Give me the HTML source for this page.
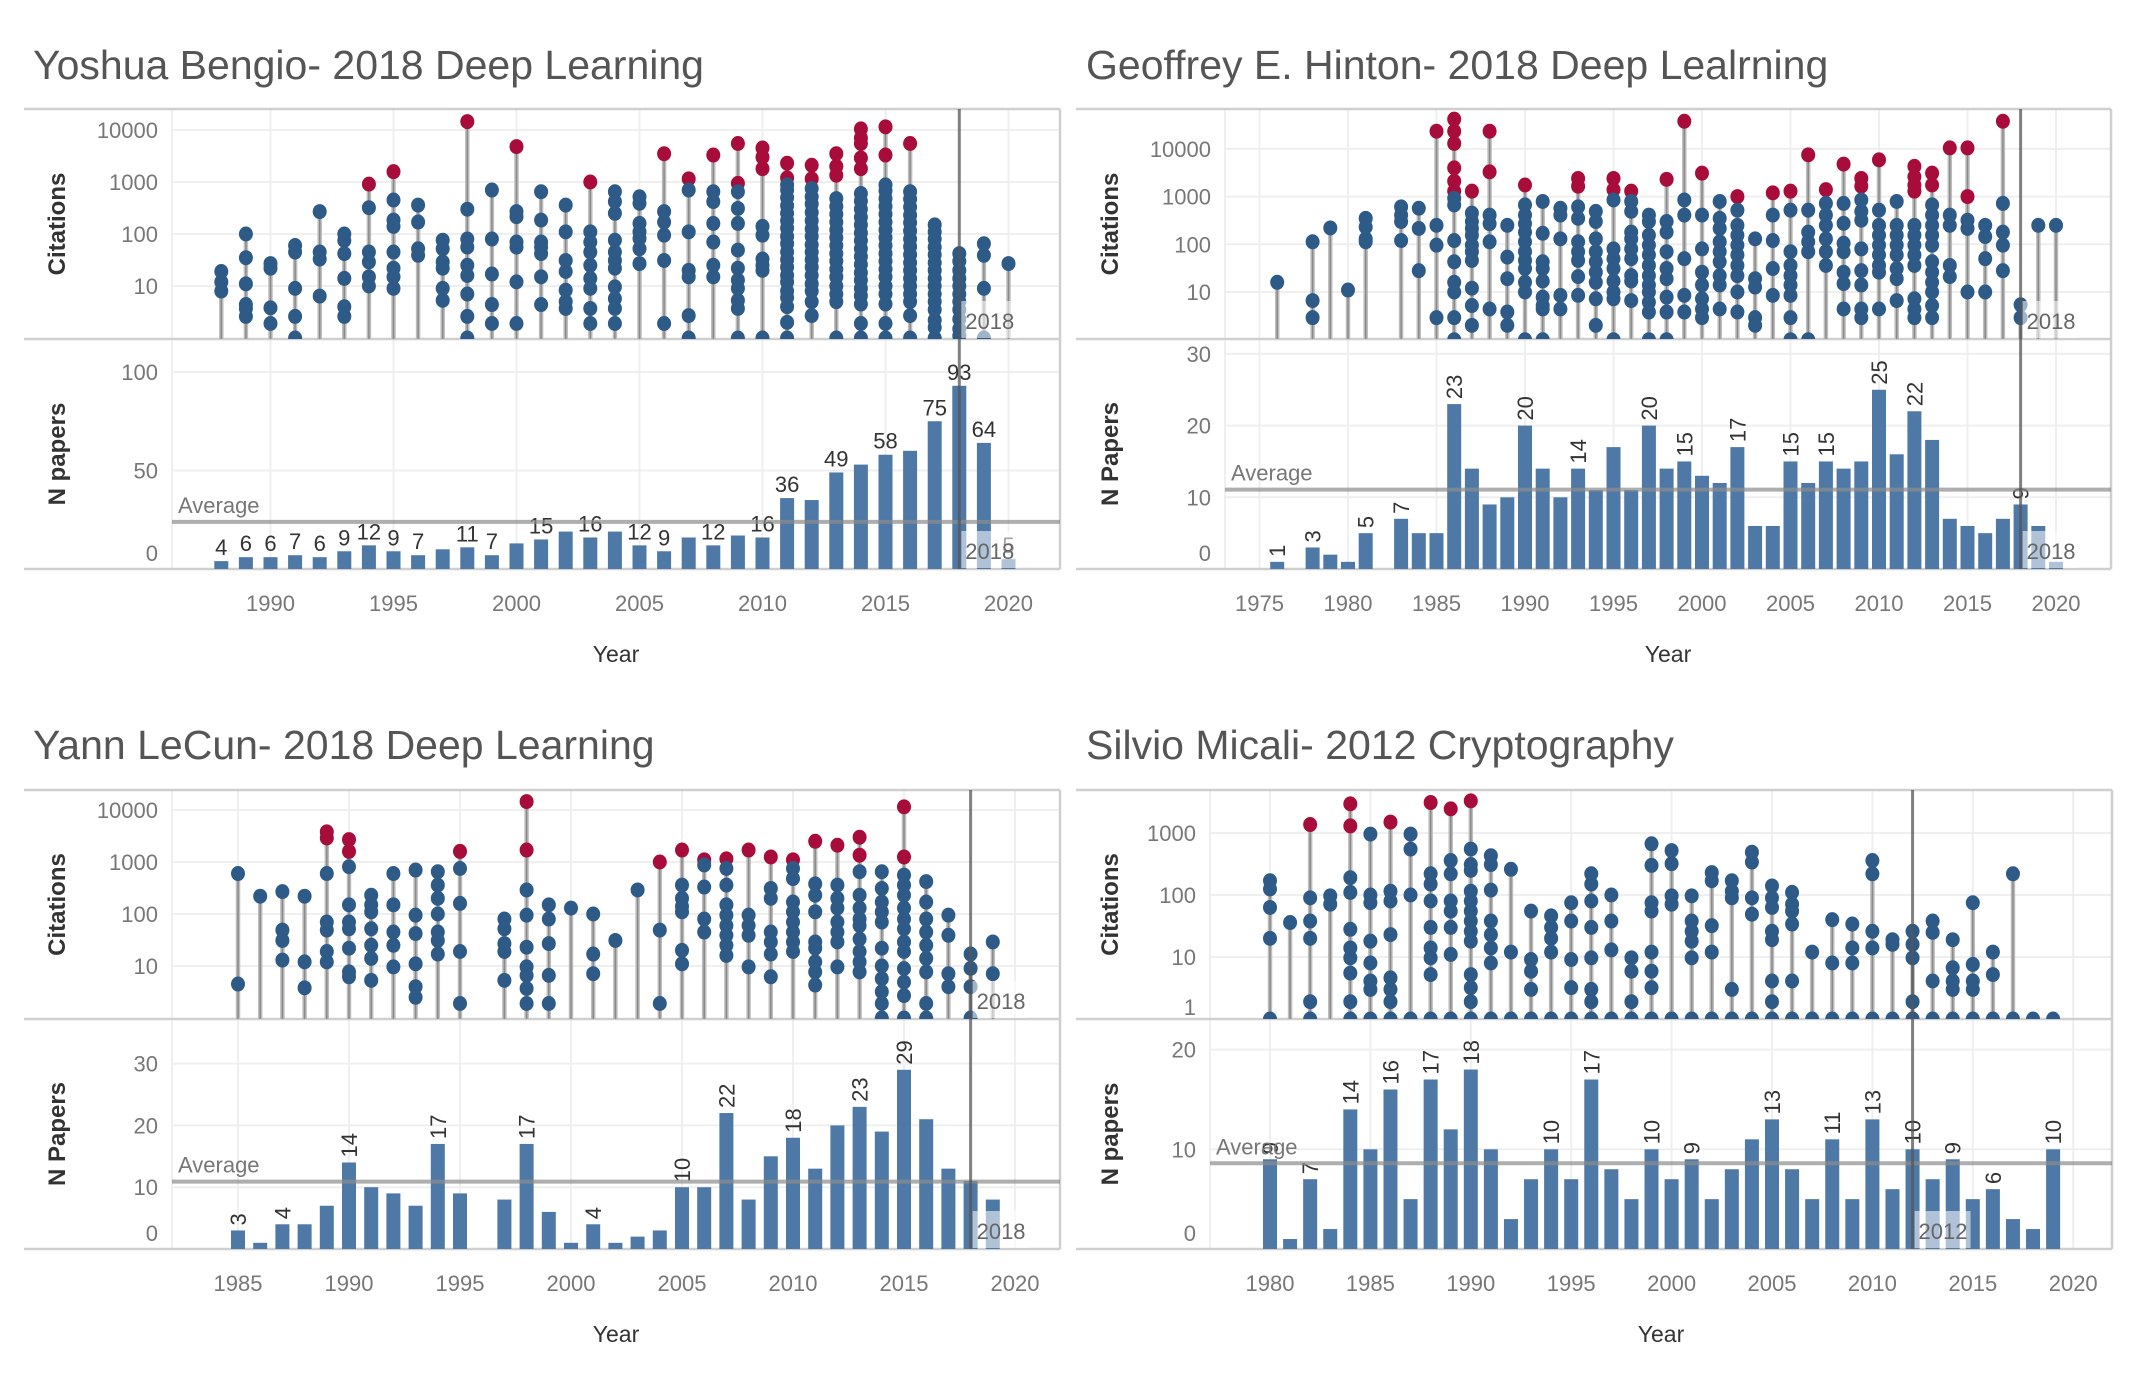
<!DOCTYPE html>
<html><head><meta charset="utf-8">
<style>
html,body{margin:0;padding:0;background:#fff;}
svg{display:block;font-family:"Liberation Sans",sans-serif;}
</style></head>
<body>
<svg id="chart" width="2136" height="1388" viewBox="0 0 2136 1388" xmlns="http://www.w3.org/2000/svg"></svg>
<script>
// ---------- DATA ----------
const bengioYears = [1988,1989,1990,1991,1992,1993,1994,1995,1996,1997,1998,1999,2000,2001,2002,2003,2004,2005,2006,2007,2008,2009,2010,2011,2012,2013,2014,2015,2016,2017,2018,2019,2020];
const bengioCounts = [4,6,6,7,6,9,12,9,7,10,11,7,13,15,19,16,19,12,9,16,12,17,16,36,35,49,53,58,60,75,93,64,5];
const bengioLabelYears = [1988,1989,1990,1991,1992,1993,1994,1995,1996,1998,1999,2001,2003,2005,2006,2008,2010,2011,2013,2015,2017,2018,2019,2020];
const bengioCitations = [
[19,12,8],[100,35,11,4.4,3.7,2.6],[27,22,3.8,1.9],[60,45,9,2.6,0],[270,45,33,6.4],[100,75,42,14,4,2.6],
[910,320,45,29,15,10],[1580,450,185,140,45,22,15,9],[360,170,52,39],[76,52,29,22,9,5.3],
[14500,300,80,56,25,16,7,2.6,0],[700,80,17,4.4,1.9],[4800,270,215,70,56,12,1.9],[650,185,70,56,42,15,4.4],
[360,110,31,19,8.3,5,3.7],[1000,110,70,45,25,14,9,3.7,1.9],[650,420,250,76,45,31,22,9.6,5.7,3.7,1.9],
[520,390,160,110,82,52,27],[3500,270,170,95,31,1.9],[1150,700,110,20,15,2.7,0],[3300,650,420,160,70,25,15],
[5500,940,650,310,160,49,22,13,9,5.3,3.7,0],[4500,3000,1800,140,95,33,25,20,0],
[2300,1200,880,700,500,350,250,180,130,90,65,45,32,23,16,12,8,6,4,2,0],
[2100,1150,750,520,380,260,180,125,90,62,45,32,23,16,11,8,5,2.7],
[3500,2000,1350,480,340,240,170,120,85,60,42,30,21,15,10,7,5,0],
[10500,7000,5500,2900,1800,600,430,300,210,150,105,75,52,37,26,18,13,9,6.5,4.5,1.9,0],
[11500,3300,880,680,480,340,240,170,120,85,60,42,30,21,15,10,7,4.5,1.9,0],
[5500,650,470,330,230,165,115,80,57,40,28,20,14,10,7,5,2.7,0],
[150,110,80,56,40,28,20,14,10,7,5,3.5,2.2,1.6,0],
[42,30,20,14,10,7,5,3.5,2.3,1.5,1.1],[65,39,9,0],[27]];

const hintonYears = [1976,1977,1978,1979,1980,1981,1982,1983,1984,1985,1986,1987,1988,1989,1990,1991,1992,1993,1994,1995,1996,1997,1998,1999,2000,2001,2002,2003,2004,2005,2006,2007,2008,2009,2010,2011,2012,2013,2014,2015,2016,2017,2018,2019,2020];
const hintonCounts = [1,0,3,2,1,5,0,7,5,5,23,14,9,10,20,14,10,14,11,17,11,20,14,15,13,12,17,6,6,15,12,15,14,15,25,16,22,18,7,6,5,7,9,6,1];
const hintonLabelYears = [1976,1978,1981,1983,1986,1990,1993,1997,1999,2002,2005,2007,2010,2012,2018];
const hintonCitations = [
[16],[],[113,6.6,2.9],[220],[11],[350,230,130,113],[],[610,410,300,120],[570,215,28],[23500,250,96,2.9],
[42000,23500,13000,4000,2100,1300,920,670,120,43,16,10,2.9,1],[1300,450,300,215,155,96,70,46,12,5.2,2],
[23500,3300,410,270,113,4.4],[250,54,19,3.8,2],[1750,670,410,270,180,113,70,46,31,16,10,1],
[790,170,43,31,17,7.8,5.2,4.4,1],[570,410,130,8.5,4.4],[2400,1650,610,350,113,70,46,21,8.5],
[490,300,130,70,43,26,16,7.2,2],[2400,1400,850,80,50,31,17,10,7.2,1],[1300,790,490,180,130,80,50,22,17,6.6],
[410,300,155,96,60,36,22,14,10,6.1,3.8,1],[2300,300,180,70,31,19,7.8,3.8,1],[38000,850,410,50,8.5,3.8],
[3100,410,80,26,14,7.2,4.4,2.9],[790,350,215,113,70,43,22,14,4.4],[1000,520,250,155,96,60,36,22,10,3.8],
[130,19,12.7,2.9,2],[1200,410,120,31,8.5],[1300,520,70,36,22,14,8.5,2.9,1],[7500,520,180,113,70,1],
[1400,720,410,250,130,70,36],[4800,720,275,105,70,26,15,4.4],[2400,1650,850,490,320,80,28,14,4.4,2.9],
[5900,520,250,155,96,60,36,26,4.4],[790,250,155,96,60,31,19,6.6],[4300,2600,1750,1300,250,155,96,60,36,7.2,4.4,2.9],
[3100,1750,670,410,250,155,96,43,26,16,10,5.2,2.9],[10500,410,250,36,21],[10500,1000,320,215,10],
[250,145,50,10],[38000,720,180,96,28],[5.4,2.9],[250],[250]];

const lecunYears = [1985,1986,1987,1988,1989,1990,1991,1992,1993,1994,1995,1996,1997,1998,1999,2000,2001,2002,2003,2004,2005,2006,2007,2008,2009,2010,2011,2012,2013,2014,2015,2016,2017,2018,2019];
const lecunCounts = [3,1,4,4,7,14,10,9,7,17,9,0,8,17,6,1,4,1,2,3,10,10,22,8,15,18,13,20,23,19,29,21,13,11,8];
const lecunLabelYears = [1985,1987,1990,1994,1998,2001,2005,2007,2010,2013,2015];
const lecunCitations = [
[600,4.5],[220],[270,49,31,13],[220,12,3.8],[3800,2900,600,70,49,19,12],[2700,1600,810,150,70,52,22,7.7,6.2],
[230,150,110,52,25,14,5.3],[600,150,45,25,9.6],[700,95,42,11,4,2.5],[650,360,200,100,45,31,17],
[1600,750,160,19,1.9],[],[80,52,27,19,5.3],[14500,1700,290,95,23,9.6,6.6,3.7,1.9],[150,80,27,6.6,1.9],
[130],[100,17,7.1],[31],[290],[1000,49,1.9],[1700,360,200,140,110,20,11],[1100,880,330,80,45],
[1150,750,360,150,95,60,39,25,16],[1700,95,60,39,9.6],[1250,310,200,45,29,17,6.2],
[1100,750,480,170,110,70,45,29,19],[2500,380,230,110,29,22,12,7.7,4.3],[2100,360,200,130,70,45,29,9.6],
[3000,1350,650,230,130,80,60,33,19,12,7.7],[650,310,170,110,70,22,10,5.7,3.2,1.9,0],
[11500,1250,560,360,230,130,80,52,29,19,8.9,4.9,2.7,0],[420,170,80,45,25,14,7.7,1.9,0],
[95,39,7.1,4],[17,9,4,0],[29,7.1]];

const micaliYears = [1980,1981,1982,1983,1984,1985,1986,1987,1988,1989,1990,1991,1992,1993,1994,1995,1996,1997,1998,1999,2000,2001,2002,2003,2004,2005,2006,2007,2008,2009,2010,2011,2012,2013,2014,2015,2016,2017,2018,2019];
const micaliCounts = [9,1,7,2,14,10,16,5,17,12,18,10,3,7,10,7,17,8,5,10,7,9,5,8,11,13,8,5,11,5,13,6,10,7,9,5,6,3,2,10];
const micaliLabelYears = [1980,1982,1984,1986,1988,1990,1994,1996,1999,2001,2005,2008,2010,2012,2014,2016,2019];
const micaliCitations = [
[170,125,63,20,0],[36],[1370,90,38,20,1.9,0],[97,71],[2950,1300,190,110,28,14,9.7,5.5,1.9,0],
[960,100,75,18,8,4.1,3,0],[1500,115,80,23,4.6,3,1.9,0],[960,550,100,0],[3100,220,150,80,30,14,9.7,5.2,0],
[2450,360,220,80,55,30,11,0],[3300,550,310,250,115,80,55,38,26,18,5.2,3.2,1.9,0],[430,310,120,38,23,14,8,0],
[260,12,0],[55,9.1,5.9,3,0],[46,30,20,12,0],[75,38,9.1,3.2,0],[220,150,80,30,9.7,3,1.9,0],[100,38,13,0],
[9.7,5.9,1.9,0],[670,300,75,55,12,5.9,3.2,0],[520,320,97,71,0],[97,38,26,18,9.7,0],[230,170,32,12,0],
[170,115,90,3,0],[490,340,90,49,0],[140,90,63,26,19,4.1,1.9,0],[110,71,55,34,4.1,0],[12,0],[40,8,0],
[34,14,8,0],[360,220,26,14,0],[19,16,0],[26,16,9.7,1.9,0],[38,25,4.1,0],[19,6.7,4.1,3,0],[75,7.6,4.1,3,0],
[12,5.2,0],[220,0],[0],[0]];

const bengioAverage = 23.9, hintonAverage = 11.07, lecunAverage = 10.9, micaliAverage = 8.6;
const bengioBarTicks = [0,50,100], hintonBarTicks = [0,10,20,30], lecunBarTicks = [0,10,20,30], micaliBarTicks = [0,10,20];
const logTicksA = [10,100,1000,10000], logTicksMicali = [1,10,100,1000];

// ---------- LAYOUT ----------
const svg = document.getElementById('chart');
const NS = 'http://www.w3.org/2000/svg';
function el(tag, attrs, parent, text){
  const e = document.createElementNS(NS, tag);
  for (const k in attrs) e.setAttribute(k, attrs[k]);
  if (text !== undefined) e.textContent = text;
  (parent || svg).appendChild(e);
  return e;
}

const panels = [
 {key:'bengio', title:'Yoshua Bengio- 2018 Deep Learning', tx:33, ty:79, frameL:24, L:172, R:1060, top:109, mid:339, bot:569,
  y0:1990, x0:270.5, ppy:24.6, xt:[1990,1995,2000,2005,2010,2015,2020], lb:338, ld:52, lt:logTicksA,
  ppu:1.97, bt:bengioBarTicks, avg:bengioAverage, ref:2018, bw:14, rot:false, ytTitle:'N papers', ytX:57, thr:905, refTop:true,
  years:bengioYears, counts:bengioCounts, labs:bengioLabelYears, cites:bengioCitations},
 {key:'hinton', title:'Geoffrey E. Hinton- 2018 Deep Lealrning', tx:1086, ty:79, frameL:1076, L:1225, R:2111, top:109, mid:339, bot:569,
  y0:1975, x0:1259.5, ppy:17.7, xt:[1975,1980,1985,1990,1995,2000,2005,2010,2015,2020], lb:339.7, ld:47.7, lt:logTicksA,
  ppu:7.17, bt:hintonBarTicks, avg:hintonAverage, ref:2018, bw:14, rot:true, ytTitle:'N Papers', ytX:1110, thr:960, refTop:true,
  years:hintonYears, counts:hintonCounts, labs:hintonLabelYears, cites:hintonCitations},
 {key:'lecun', title:'Yann LeCun- 2018 Deep Learning', tx:33, ty:759, frameL:24, L:172, R:1060, top:790, mid:1019, bot:1249,
  y0:1985, x0:238, ppy:22.2, xt:[1985,1990,1995,2000,2005,2010,2015,2020], lb:1018, ld:52, lt:logTicksA,
  ppu:6.18, bt:lecunBarTicks, avg:lecunAverage, ref:2018, bw:14, rot:true, ytTitle:'N Papers', ytX:57, thr:950, refTop:true,
  years:lecunYears, counts:lecunCounts, labs:lecunLabelYears, cites:lecunCitations},
 {key:'micali', title:'Silvio Micali- 2012 Cryptography', tx:1086, ty:759, frameL:1076, L:1210, R:2112, top:790, mid:1019, bot:1249,
  y0:1980, x0:1270, ppy:20.08, xt:[1980,1985,1990,1995,2000,2005,2010,2015,2020], lb:1019, ld:62, lt:logTicksMicali,
  ppu:9.97, bt:micaliBarTicks, avg:micaliAverage, ref:2012, bw:14, rot:true, ytTitle:'N papers', ytX:1110, thr:1200, refTop:false,
  years:micaliYears, counts:micaliCounts, labs:micaliLabelYears, cites:micaliCitations}
];

panels.forEach(p => {
  const g = el('g', {});
  
  
  const xs = y => p.x0 + (y - p.y0) * p.ppy;
  const ly = v => p.lb - p.ld * Math.log10(Math.max(v, 1));
  const by = v => p.bot - v * p.ppu;

  const t = el('text', {x:p.tx, y:p.ty, 'font-size':41, fill:'#555'}, g, p.title);
  
  

  const grid = el('g', {stroke:'#efefef', 'stroke-width':2}, g);
  
  
  p.xt.forEach(y => el('line', {x1:xs(y), x2:xs(y), y1:p.top, y2:p.bot}, grid));
  el('line', {x1:p.L, x2:p.L, y1:p.top, y2:p.bot}, grid);
  p.lt.forEach(v => el('line', {x1:p.L, x2:p.R, y1:ly(v), y2:ly(v)}, grid));
  p.bt.forEach(v => el('line', {x1:p.L, x2:p.R, y1:by(v), y2:by(v)}, grid));

  const fr = el('g', {stroke:'#cfcfcf', 'stroke-width':2.5, fill:'none'}, g);
  
  
  [p.top, p.mid, p.bot].forEach(yy => el('line', {x1:p.frameL, x2:p.R, y1:yy, y2:yy}, fr));
  el('line', {x1:p.R, x2:p.R, y1:p.top, y2:p.bot}, fr);

  const tl = el('g', {'font-size':22, fill:'#777', 'text-anchor':'end'}, g);
  
  
  p.lt.forEach(v => el('text', {x:p.L-14, y:Math.min(ly(v), p.mid-12)+8}, tl, String(v)));
  p.bt.forEach(v => el('text', {x:p.L-14, y:Math.min(by(v), p.bot-16)+8}, tl, String(v)));

  const yt1 = el('text', {x:p.ytX, y:(p.top+p.mid)/2, 'font-size':24, 'font-weight':600, fill:'#333', 'text-anchor':'middle', transform:`rotate(-90 ${p.ytX} ${(p.top+p.mid)/2})`, dy:8}, g, 'Citations');
  
  
  const yt2 = el('text', {x:p.ytX, y:(p.mid+p.bot)/2, 'font-size':24, 'font-weight':600, fill:'#333', 'text-anchor':'middle', transform:`rotate(-90 ${p.ytX} ${(p.mid+p.bot)/2})`, dy:8}, g, p.ytTitle);
  
  

  const xl = el('g', {'font-size':22, fill:'#777', 'text-anchor':'middle'}, g);
  
  
  p.xt.forEach(y => el('text', {x:xs(y), y:p.bot+42}, xl, String(y)));
  const xt = el('text', {x:(p.L+p.R)/2, y:p.bot+93, 'font-size':23, fill:'#333', 'text-anchor':'middle'}, g, 'Year');
  
  

  const cid = 'clip-' + p.key;
  const cp = el('clipPath', {id:cid}, g);
  el('rect', {x:p.L, y:p.top, width:p.R-p.L, height:p.mid-p.top}, cp);

  const lol = el('g', {'clip-path':`url(#${cid})`}, g);
  
  
  p.years.forEach((yr, i) => {
    const vals = p.cites[i];
    if (!vals || !vals.length) return;
    const mx = Math.max(...vals);
    const x = xs(yr);
    const st = el('line', {x1:x, x2:x, y1:p.mid, y2:ly(mx), stroke:'#bdbdbd', 'stroke-width':4.5}, lol);
    
    
    el('line', {x1:x, x2:x, y1:p.mid, y2:ly(mx), stroke:'#8a8a8a', 'stroke-width':1.5}, lol);
  });
  p.years.forEach((yr, i) => {
    const vals = p.cites[i] || [];
    const x = xs(yr);
    vals.forEach(v => {
      const c = el('ellipse', {cx:x, cy:ly(v), rx:7, ry:7.5, fill: v >= p.thr ? '#a80c3a' : '#2e5a87'}, lol);
      
      
    });
  });

  const bars = el('g', {}, g);
  
  
  p.years.forEach((yr, i) => {
    const v = p.counts[i];
    if (!v) return;
    const r = el('rect', {x:xs(yr)-p.bw/2, y:by(v), width:p.bw, height:v*p.ppu, fill:'#4e79a7'}, bars);
    
    
  });

  const bl = el('g', {'font-size':22, fill:'#333'}, g);
  
  
  p.years.forEach((yr, i) => {
    if (!p.labs.includes(yr)) return;
    const v = p.counts[i], x = xs(yr), y = by(v);
    if (p.rot) {
      el('text', {x:x+8, y:y-5, transform:`rotate(-90 ${x+8} ${y-5})`}, bl, String(v));
    } else {
      el('text', {x:x, y:y-6, 'text-anchor':'middle'}, bl, String(v));
    }
  });

  const av = el('line', {x1:p.L, x2:p.R, y1:by(p.avg), y2:by(p.avg), stroke:'#8c8c8c', 'stroke-opacity':0.7, 'stroke-width':4}, g);
  
  
  const at = el('text', {x:p.L+6, y:by(p.avg)-9, 'font-size':22, fill:'#777'}, g, 'Average');
  
  

  const rx = xs(p.ref);
  const rl = el('line', {x1:rx, x2:rx, y1:p.top, y2:p.bot, stroke:'#555', 'stroke-opacity':0.75, 'stroke-width':3}, g);
  
  
  const boxes = p.refTop ? [p.mid, p.bot] : [p.bot];
  boxes.forEach(b => {
    el('rect', {x:rx+2, y:b-38, width:56, height:37, fill:'#fff', 'fill-opacity':0.55}, g);
    const lt = el('text', {x:rx+6, y:b-10, 'font-size':22, fill:'#666'}, g, String(p.ref));
    
    
  });
});
</script>
</body></html>
